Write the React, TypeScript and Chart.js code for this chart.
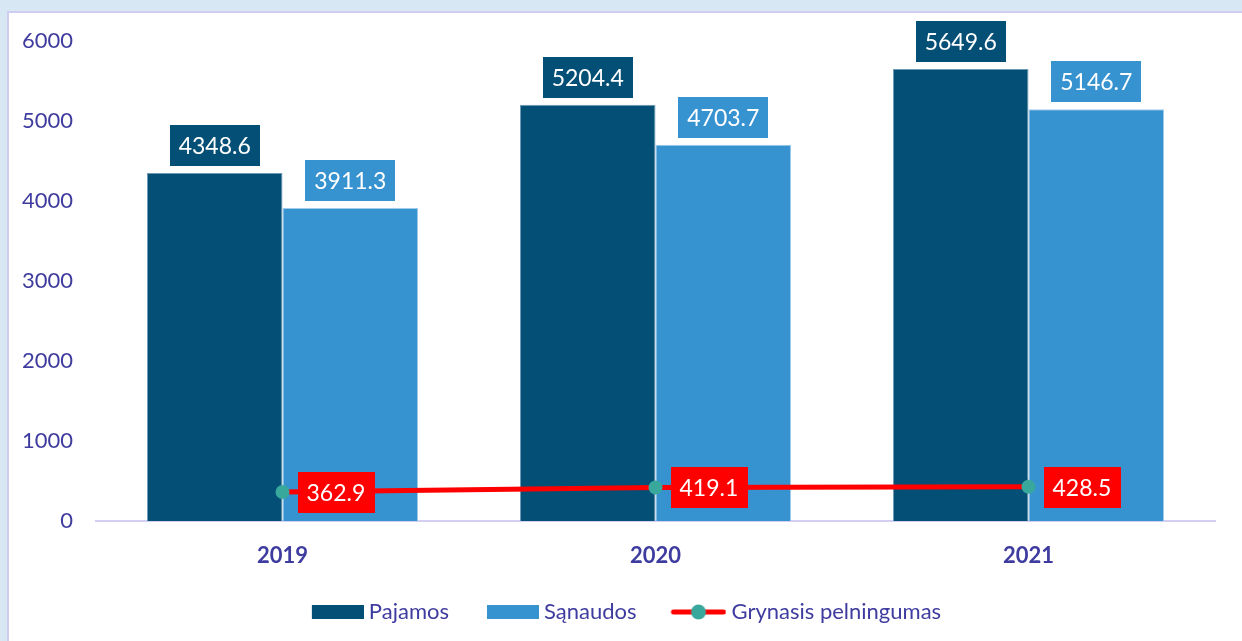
import React, { useEffect, useRef } from "react";
import { Chart, registerables } from "chart.js";

Chart.register(...registerables);

const categories = ["2019", "2020", "2021"];
const pajamos = [4348.6, 5204.4, 5649.6];
const sanaudos = [3911.3, 4703.7, 5146.7];
const pelningumas = [362.9, 419.1, 428.5];
const yTicks = [0, 1000, 2000, 3000, 4000, 5000, 6000];
const seriesNames = ["Pajamos", "Sąnaudos", "Grynasis pelningumas"];

const DARK = "#034f75";
const LIGHT = "#3792d0";
const RED = "#ff0000";
const TEAL = "#38a89d";
const INK = "#3f3c9f";
const FONT = "Lato, 'Noto Sans', sans-serif";

function makeBoxImage(color: string, w: number, visW: number, h: number) {
  const c = document.createElement("canvas");
  c.width = w;
  c.height = h;
  const ctx = c.getContext("2d")!;
  ctx.fillStyle = color;
  ctx.fillRect(w - visW, 0, visW, h);
  return c;
}

function makeLineImage(w: number, visW: number) {
  const h = 16;
  const c = document.createElement("canvas");
  c.width = w;
  c.height = h;
  const ctx = c.getContext("2d")!;
  const x0 = w - visW;
  ctx.strokeStyle = RED;
  ctx.lineWidth = 5;
  ctx.lineCap = "round";
  ctx.beginPath();
  ctx.moveTo(x0 + 3, h / 2);
  ctx.lineTo(w - 3, h / 2);
  ctx.stroke();
  ctx.fillStyle = TEAL;
  ctx.beginPath();
  ctx.arc(x0 + visW / 2, h / 2, 7.5, 0, Math.PI * 2);
  ctx.fill();
  return c;
}

const labelPlugin = {
  id: "valueLabels",
  afterDatasetsDraw(chart: any) {
    const ctx = chart.ctx;
    ctx.save();
    ctx.font = `23px ${FONT}`;
    ctx.textAlign = "center";
    ctx.textBaseline = "middle";
    chart.data.datasets.forEach((ds: any, di: number) => {
      const meta = chart.getDatasetMeta(di);
      meta.data.forEach((el: any, i: number) => {
        const txt = ds.data[i].toFixed(1);
        const tw = ctx.measureText(txt).width;
        const bw = tw + 18;
        const bh = 41;
        let cx: number, cy: number, fill: string;
        if (ds.type === "line") {
          cx = el.x + 15 + bw / 2;
          cy = el.y + 0.5;
          fill = RED;
        } else {
          cx = el.x;
          cy = el.y - 7 - bh / 2;
          fill = ds.backgroundColor;
        }
        ctx.fillStyle = fill;
        ctx.fillRect(Math.round(cx - bw / 2), Math.round(cy - bh / 2), Math.round(bw), bh);
        ctx.fillStyle = "#ffffff";
        ctx.fillText(txt, cx, cy + 1);
      });
    });
    ctx.restore();
  },
};

const legendShift = {
  id: "legendShift",
  afterLayout(chart: any) {
    if (chart.legend) {
      chart.legend.left += 14;
      chart.legend.right += 14;
    }
  },
};

export default function App() {
  const ref = useRef<HTMLCanvasElement | null>(null);
  useEffect(() => {
    if (!ref.current) return;
    const W = 56;
    const imgs = [
      makeBoxImage(DARK, W + 12, 52, 14),
      makeBoxImage(LIGHT, W + 12, 52, 14),
      makeLineImage(W + 12, 56),
    ];
    const chart = new Chart(ref.current, {
      type: "bar",
      data: {
        labels: categories,
        datasets: [
          {
            type: "bar",
            label: seriesNames[0],
            data: pajamos,
            backgroundColor: DARK,
            borderColor: "#6f98b6",
            borderWidth: 1,
            categoryPercentage: 0.727,
            barPercentage: 1,
            order: 2,
          },
          {
            type: "bar",
            label: seriesNames[1],
            data: sanaudos,
            backgroundColor: LIGHT,
            borderColor: "#9fcbec",
            borderWidth: 1,
            categoryPercentage: 0.727,
            barPercentage: 1,
            order: 2,
          },
          {
            type: "line",
            label: seriesNames[2],
            data: pelningumas,
            borderColor: RED,
            borderWidth: 5,
            pointRadius: 7,
            pointBackgroundColor: TEAL,
            pointBorderWidth: 0,
            tension: 0,
            order: 0,
          } as any,
        ],
      },
      options: {
        responsive: false,
        animation: false,
        devicePixelRatio: 1,
        layout: { padding: { top: 41, right: 27, bottom: 8, left: 0 } },
        plugins: {
          tooltip: { enabled: false },
          legend: {
            position: "bottom",
            labels: {
              usePointStyle: true,
              pointStyleWidth: W,
              padding: 28,
              color: INK,
              font: { family: FONT, size: 22 },
              generateLabels: () =>
                seriesNames.map((n, i) => ({
                  text: n,
                  pointStyle: imgs[i],
                  fillStyle: "transparent",
                  strokeStyle: "transparent",
                  lineWidth: 0,
                  hidden: false,
                  datasetIndex: i,
                  fontColor: INK,
                })) as any,
            },
          },
        },
        scales: {
          x: {
            grid: { display: false, drawTicks: false },
            border: { display: true, color: "#d2cff0", width: 2 },
            ticks: {
              color: INK,
              padding: 22,
              font: { family: FONT, size: 22, weight: "bold" },
            },
            afterFit: (s: any) => {
              s.height = 52;
            },
          },
          y: {
            min: 0,
            max: 6000,
            afterBuildTicks: (s: any) => {
              s.ticks = yTicks.map((v) => ({ value: v }));
            },
            grid: { display: false, drawTicks: false },
            border: { display: false },
            ticks: {
              color: INK,
              padding: 23,
              font: { family: FONT, size: 22 },
              callback: (v: any) => String(v),
            },
            afterFit: (s: any) => {
              s.width = 96;
            },
          },
        },
      },
      plugins: [labelPlugin, legendShift],
    });
    return () => chart.destroy();
  }, []);

  return (
    <div
      style={{
        position: "fixed",
        left: 0,
        top: 0,
        width: 1242,
        height: 641,
        background: "#d7e7f4",
        overflow: "hidden",
      }}
    >
      <div
        style={{
          position: "absolute",
          left: 7,
          top: 11,
          width: 1260,
          height: 660,
          background: "#ffffff",
          border: "2px solid #cfcdef",
          boxSizing: "border-box",
        }}
      />
      <canvas
        ref={ref}
        width={1242}
        height={641}
        style={{ position: "absolute", left: 0, top: 0, width: 1242, height: 641 }}
      />
    </div>
  );
}
